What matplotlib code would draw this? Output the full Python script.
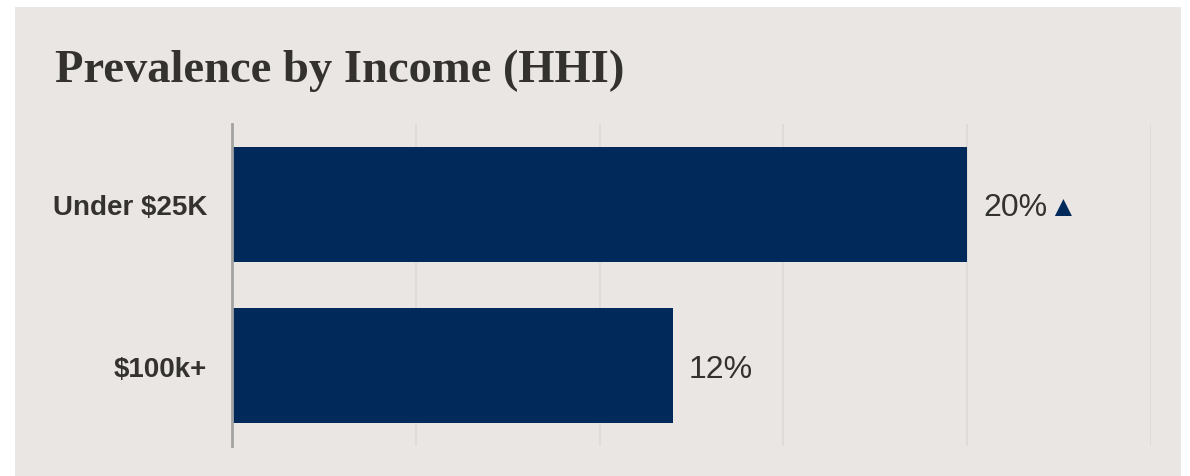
import matplotlib.pyplot as plt
from matplotlib.patches import Rectangle

categories = ['Under $25K', '$100k+']
values = [20, 12]
trend = ['up', None]
xticks = [0, 5, 10, 15, 20, 25]

panel_bg = '#E9E6E3'
bar_color = '#012A5A'
text_color = '#34322F'

W, H = 1190, 477
fig = plt.figure(figsize=(W / 100, H / 100), dpi=100)
fig.patch.set_facecolor('white')

# grey card behind everything
fig.patches.append(Rectangle((15 / W, 0), (1181 - 15) / W, (477 - 8) / H,
                             transform=fig.transFigure, facecolor=panel_bg,
                             edgecolor='none', zorder=-5))

fig.text(55 / W, 1 - 82 / H, 'Prevalence by Income (HHI)', fontsize=33.5,
         fontweight='bold', family='Liberation Serif', color=text_color,
         va='baseline', ha='left')

ax = fig.add_axes([232 / W, 1 - 447 / H, (1151 - 232) / W, (447 - 125) / H])
ax.set_facecolor('none')
ax.set_zorder(2)

ypos = list(range(len(categories)))
ax.barh(ypos, values, height=0.714, color=bar_color, zorder=2)
ax.set_ylim(len(categories) - 0.5, -0.5)
ax.set_xlim(xticks[0], xticks[-1])
ax.set_xticks(xticks)
ax.xaxis.grid(True, color='#DCD9D6', linewidth=1.2, zorder=0)
ax.tick_params(axis='x', length=0, labelbottom=False)
ax.tick_params(axis='y', length=0, pad=18)
ax.set_yticks(ypos)
ax.set_yticklabels(categories, fontsize=20, fontweight='bold',
                   family='Liberation Sans', color=text_color)
for s in ['top', 'right', 'bottom']:
    ax.spines[s].set_visible(False)
ax.spines['left'].set_color('#A3A3A3')
ax.spines['left'].set_linewidth(2)
ax.spines['left'].set_zorder(3)

for y, v, t in zip(ypos, values, trend):
    ax.annotate(f'{v}%', (v, y), xytext=(16, -3), textcoords='offset pixels',
                ha='left', va='center', fontsize=23,
                family='Liberation Sans', color=text_color)
    if t == 'up':
        ax.annotate('▲', (v, y), xytext=(81, -2), textcoords='offset pixels',
                    ha='left', va='center', fontsize=21,
                    family=['Liberation Sans', 'DejaVu Sans'], color=bar_color)

fig.savefig('out.png', dpi=100, facecolor=fig.get_facecolor())
